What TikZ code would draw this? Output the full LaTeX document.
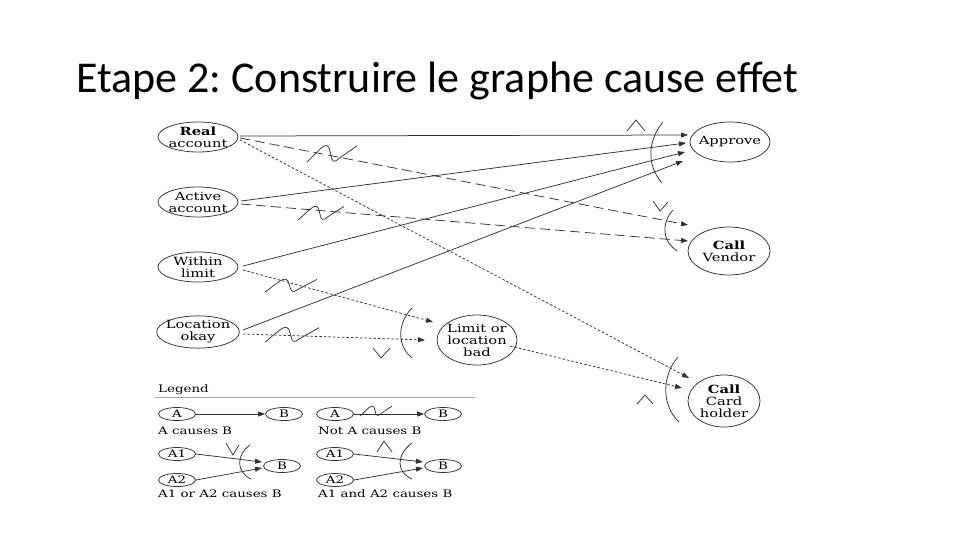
\documentclass[tikz,border=0pt]{standalone}
\usepackage{fontspec}
\setmainfont{Carlito}
\newfontfamily\dfont[FakeStretch=1.3]{DejaVu Serif}
\usetikzlibrary{shapes.geometric,arrows.meta,calc}
\frenchspacing
\tikzset{
  ink/.style={draw=black!80, line width=0.75pt},
  ev/.style={ellipse, ink, inner ysep=0pt, inner xsep=-3pt, align=center,
    font=\dfont\fontsize{11.3}{12}\selectfont},
  lev/.style={ellipse, ink, inner sep=0pt, minimum width=37, minimum height=13,
    font=\dfont\fontsize{10.3}{10}\selectfont},
  ltext/.style={anchor=west, inner sep=0pt, font=\dfont\fontsize{10.3}{10}\selectfont},
  arr/.style={ink, -{Triangle[length=7pt,width=5pt]}},
  dashL/.style={dash pattern=on 10pt off 5pt},
  dots/.style={dash pattern=on 2.5pt off 2pt},
  sym/.style={ink, solid},
  notsym/.pic={\draw[sym] (0,1) .. controls (0.25,0.35) and (0.36,-0.15) .. (0.44,0.2) -- (0.5,0.85) .. controls (0.53,1.05) and (0.58,0.95) .. (0.64,0.8) -- (1,0.1);}
}
\begin{document}
\begin{tikzpicture}[x=1pt,y=-1pt]
\useasboundingbox (0,0) rectangle (960,540);
\fill[white] (0,0) rectangle (960,540);

% title
\node[anchor=base west, inner sep=0pt, font=\fontsize{44}{44}\selectfont] (title) at (76,93) {Etape 2: Construire le graphe cause effet};

% cause nodes
\node[ev, minimum width=80, minimum height=30] (real) at (198,137) {\textbf{Real}\\account};
\node[ev, minimum width=80, minimum height=30] (active) at (198,202) {Active\\account};
\node[ev, minimum width=80, minimum height=30] (within) at (198,267) {Within\\limit};
\node[ev, minimum width=80, minimum height=30] (loc) at (198,332) {Location\\okay};
% effect nodes
\node[ev, minimum width=80, minimum height=40] (approve) at (730,142) {Approve};
\node[ev, minimum width=82, minimum height=48] (vendor) at (729,251) {\textbf{Call}\\Vendor};
\node[ev, minimum width=80, minimum height=50] (limit) at (477,340) {Limit or\\location\\bad};
\node[ev, minimum width=72, minimum height=52] (holder) at (724,401) {\textbf{Call}\\Card\\holder};

% connectors to Approve
\draw[arr] ($(real.center)+(42,-1)$) -- ($(approve.center)+(-42,-7)$);
\draw[arr] ($(active.center)+(43,-1)$) -- ($(approve.center)+(-44,1)$);
\draw[arr] ($(within.center)+(45,-1)$) -- ($(approve.center)+(-45,10)$);
\draw[arr] ($(loc.center)+(45,-2)$) -- ($(approve.center)+(-47,19)$);
% to Call Vendor (negated)
\draw[arr, dashL] ($(real.center)+(42,1)$) -- ($(vendor.center)+(-41,-26)$);
\draw[arr, dashL] ($(active.center)+(43,2)$) -- ($(vendor.center)+(-41,-10)$);
% dotted
\draw[arr, dots] ($(real.center)+(42,3)$) -- ($(holder.center)+(-35,-23)$);
\draw[arr, dots] ($(within.center)+(45,3)$) -- ($(limit.center)+(-44,-18)$);
\draw[arr, dots] ($(loc.center)+(45,2)$) -- ($(limit.center)+(-52,0)$);
\draw[arr, dots] ($(limit.center)+(33,6)$) -- ($(holder.center)+(-42,-13)$);

% negation squiggles
\pic[xscale=50, yscale=18] at (307,144) {notsym};
\pic[xscale=46, yscale=15] at (298,205) {notsym};
\pic[xscale=52, yscale=14] at (265,278) {notsym};
\pic[xscale=54, yscale=16] at (265,326) {notsym};

% constraint arcs and and/or marks
\draw[sym] (663,122) .. controls (648,140) and (646,165) .. (662,183);
\draw[sym] (627,131) -- (636,120) -- (645,131);
\draw[sym] (673,210) .. controls (662,222) and (661,240) .. (677,251);
\draw[sym] (653,201) -- (660,211) -- (668,202);
\draw[sym] (412,308) .. controls (398,322) and (396,345) .. (412,358);
\draw[sym] (373,348) -- (381,358) -- (390,348);
\draw[sym] (678,357) .. controls (662,375) and (661,405) .. (679,422);
\draw[sym] (637,404) -- (645,395) -- (653,404);

% legend
\node[anchor=base west, inner sep=0pt, font=\dfont\fontsize{10.3}{10}\selectfont] (legtitle) at (158,392) {Legend};
\draw[draw=black!35, line width=0.6pt] (155,397) -- (475,397);

\node[lev] (la) at (177,414) {A};
\node[lev] (lb) at (284,414) {B};
\draw[arr] (la) -- (lb);
\node[ltext] (lt1) at (158,431) {A causes B};

\node[lev] (lna) at (335,414) {A};
\node[lev] (lnb) at (443,414) {B};
\draw[arr] (lna) -- (lnb);
\pic[xscale=32, yscale=11] at (360,405) {notsym};
\node[ltext] (lt2) at (318,431) {Not A causes B};

\node[lev] (loa1) at (177,454) {A1};
\node[lev] (loa2) at (177,480) {A2};
\node[lev] (lob) at (282,466) {B};
\draw[arr] (loa1.east) -- ($(lob.center)+(-20,-4)$);
\draw[arr] (loa2.east) -- ($(lob.center)+(-20,2)$);
\draw[sym] (250,445) .. controls (236,455) and (236,472) .. (251,479);
\draw[sym] (226,443) -- (233,455) -- (239,445);
\node[ltext] (lt3) at (158,494) {A1 or A2 causes B};

\node[lev] (lra1) at (335,454) {A1};
\node[lev] (lra2) at (335,480) {A2};
\node[lev] (lrb) at (443,466) {B};
\draw[arr] (lra1.east) -- ($(lrb.center)+(-20,-4)$);
\draw[arr] (lra2.east) -- ($(lrb.center)+(-20,2)$);
\draw[sym] (412,443) .. controls (396,455) and (396,472) .. (412,479);
\draw[sym] (377,452) -- (384,441) -- (392,452);
\node[ltext] (lt4) at (318,494) {A1 and A2 causes B};
\end{tikzpicture}
\end{document}
